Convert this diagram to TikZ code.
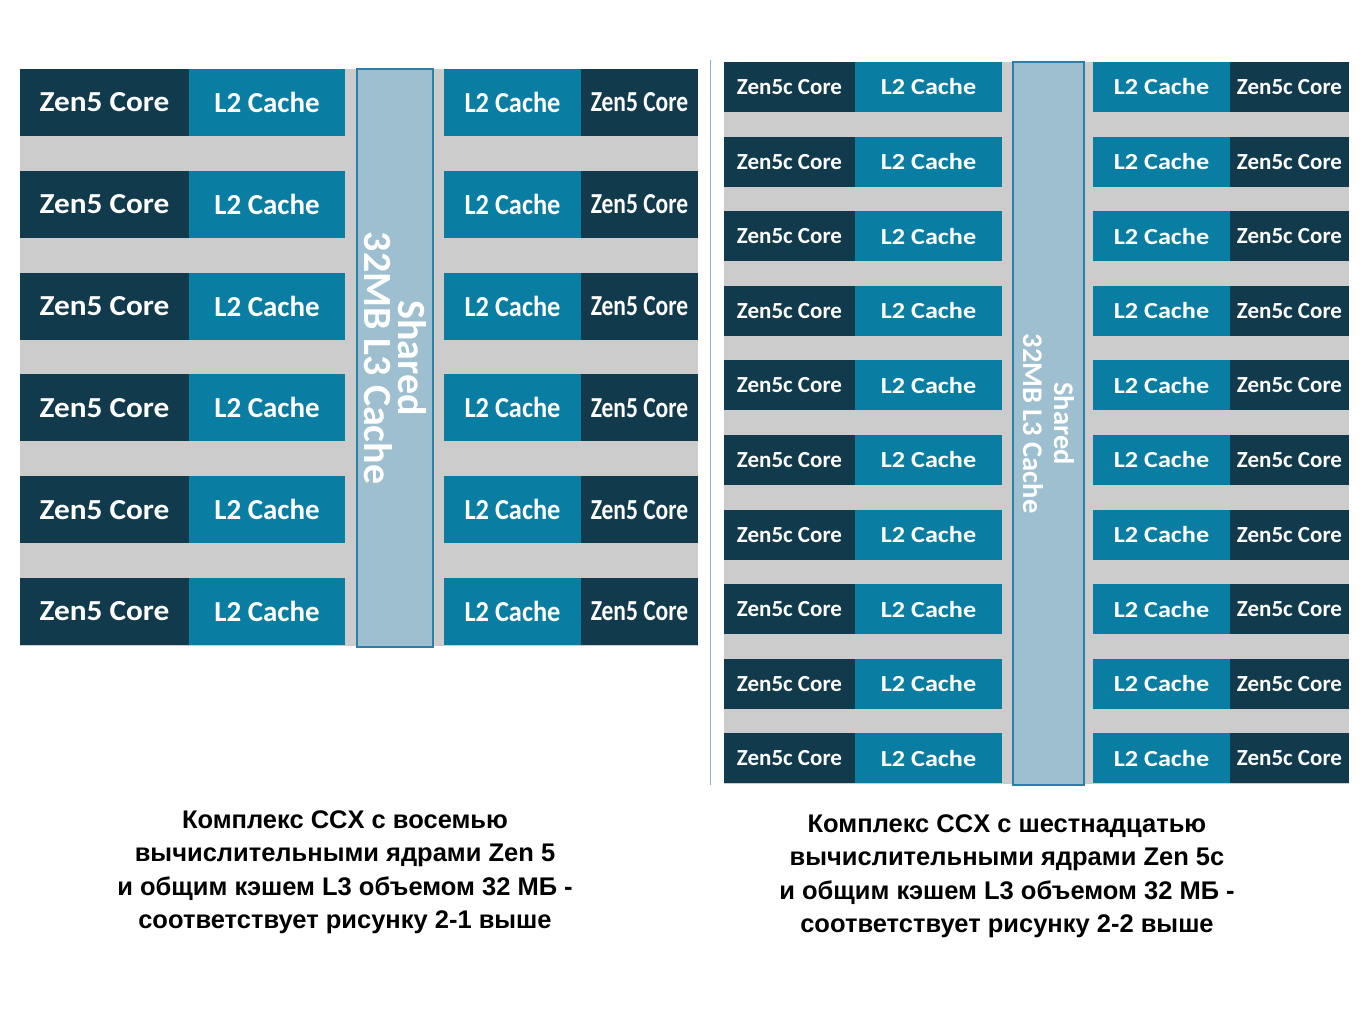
\documentclass[tikz,border=0pt]{standalone}
\usepackage{fontspec}
\newfontfamily\boxfont{Carlito}
\newfontfamily\capfont{Liberation Sans}
\definecolor{coreC}{HTML}{113A4D}
\definecolor{ltwoC}{HTML}{0A7DA3}
\definecolor{grayC}{HTML}{CCCCCC}
\definecolor{lthreeC}{HTML}{9DBFCF}
\definecolor{lthreeB}{HTML}{2C80A8}
\definecolor{sepC}{HTML}{8AB4CC}
\tikzset{
  blk/.style={anchor=north west, inner sep=0pt, outer sep=0pt, text=white},
  corebox/.style={blk, fill=coreC},
  ltwobox/.style={blk, fill=ltwoC},
  lthreebox/.style={blk, fill=lthreeC, draw=lthreeB, line width=1.5pt},
  bigtxt/.style={font=\boxfont\bfseries\fontsize{29}{29}\selectfont},
  smalltxt/.style={font=\boxfont\bfseries\fontsize{23}{23}\selectfont},
  lthreetxt/.style={text=white, rotate=-90, align=center},
  captxt/.style={align=center, text=black, font=\capfont\bfseries\fontsize{25.5}{33.5}\selectfont}
}
\begin{document}
\begin{tikzpicture}[x=1pt, y=-1pt]
\useasboundingbox[fill=white] (0,0) rectangle (1365,1024);
% ---------- left block ----------
\fill[grayC] (20,69) rectangle (698,646);
\foreach \i in {0,...,5}{
  \pgfmathsetmacro{\t}{69+101.8*\i}
  \node[corebox, bigtxt, minimum width=169, minimum height=67] (lc\i) at (20,\t) {\scalebox{1.08}[1]{Zen5 Core}};
  \node[ltwobox, bigtxt, minimum width=156, minimum height=67] (ll\i) at (189,\t) {L2 Cache};
  \node[ltwobox, bigtxt, minimum width=137, minimum height=67] (rl\i) at (444,\t) {\scalebox{0.91}[1]{L2 Cache}};
  \node[corebox, bigtxt, minimum width=117, minimum height=67] (rc\i) at (581,\t) {\scalebox{0.81}[1]{Zen5 Core}};
}
\node[lthreebox, minimum width=76, minimum height=578] (l3a) at (357,69) {};
\node[lthreetxt, font=\boxfont\bfseries\fontsize{40}{34}\selectfont] (l3at) at (l3a.center) {Shared\\32MB L3 Cache};
% separator
\coordinate (sepT) at (710,60);
\coordinate (sepB) at (710,785);
\draw[sepC, line width=1pt] (sepT) -- (sepB);
% ---------- right block ----------
\fill[grayC] (724,62) rectangle (1349,784);
\foreach \i in {0,...,9}{
  \pgfmathsetmacro{\t}{62+74.6*\i}
  \node[corebox, smalltxt, minimum width=131, minimum height=50] (slc\i) at (724,\t) {Zen5c Core};
  \node[ltwobox, smalltxt, minimum width=147, minimum height=50] (sll\i) at (855,\t) {\scalebox{1.14}[1]{L2 Cache}};
  \node[ltwobox, smalltxt, minimum width=137, minimum height=50] (srl\i) at (1093,\t) {\scalebox{1.14}[1]{L2 Cache}};
  \node[corebox, smalltxt, minimum width=119, minimum height=50] (src\i) at (1230,\t) {Zen5c Core};
}
\node[lthreebox, minimum width=71, minimum height=723] (l3b) at (1013,62) {};
\node[lthreetxt, font=\boxfont\bfseries\fontsize{28.5}{31}\selectfont] (l3bt) at (l3b.center) {Shared\\32MB L3 Cache};
% ---------- captions ----------
\node[captxt] (capa) at (345,872) {Комплекс CCX с восемью\\вычислительными ядрами Zen 5\\и общим кэшем L3 объемом 32 МБ -\\соответствует рисунку 2-1 выше};
\node[captxt] (capb) at (1007,876) {Комплекс CCX с шестнадцатью\\вычислительными ядрами Zen 5c\\и общим кэшем L3 объемом 32 МБ -\\соответствует рисунку 2-2 выше};
\end{tikzpicture}
\end{document}
